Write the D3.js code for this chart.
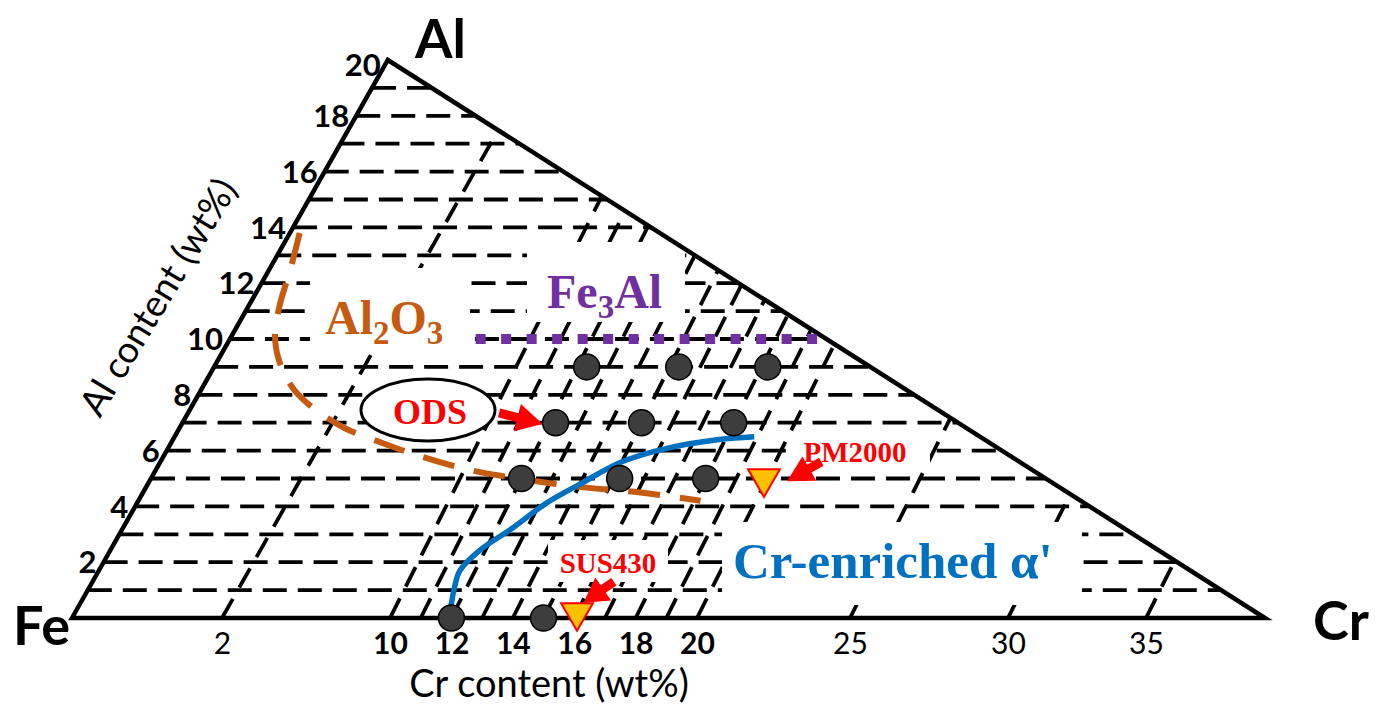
<!DOCTYPE html>
<html>
<head>
<meta charset="utf-8">
<script src="https://cdn.jsdelivr.net/npm/d3@7"></script>
<style>
  body { margin: 0; background: #fff; }
  svg { display: block; }
</style>
</head>
<body>
<div id="chart"></div>
<script>
// ---- data (wt%) ----
// axis ticks
const crTicks = [2, 10, 12, 14, 16, 18, 20, 25, 30, 35];
const crBoldTicks = [10, 12, 14, 16, 18, 20];
const alTicks = [2, 4, 6, 8, 10, 12, 14, 16, 18, 20];

// grid lines of the hatched diagram
const alGrid = [1, 2, 3, 4, 5, 6, 7, 8, 9, 10, 11, 12, 13, 14, 15, 16, 17, 18, 19];
const crGrid = [2, 10, 11, 12, 13, 14, 15, 16, 17, 18, 19, 20, 25, 30, 35];

// tested alloys (grey dots)
const sampleCr = [12, 15, 12, 15.2, 18, 12.2, 15, 18, 12.3, 15.3, 18.2];
const sampleAl = [0, 0, 5, 5, 5, 7, 7, 7, 9, 9, 9];

// commercial alloys (yellow triangles)
const alloyNames = ["PM2000", "SUS430"];
const alloyCr = [19.9, 16.0];
const alloyAl = [5.0, 0.2];

// Al2O3 forming boundary
const al2o3Cr = [0.13, 0.28, 0.41, 0.58, 0.86, 1.23, 1.65, 2.8, 5.0, 7.4, 10.2, 11.9, 14.0, 16.1, 18.2];
const al2o3Al = [13.8, 12.5, 11.2, 10.1, 9.1, 8.2, 7.5, 6.8, 6.3, 5.8, 5.3, 5.0, 4.7, 4.5, 4.2];

// Cr-enriched alpha' boundary
const alphaCr = [11.8, 11.6, 11.5, 11.8, 12.5, 13.2, 14.0, 15.0, 16.3, 17.8, 18.9];
const alphaAl = [0.4, 1.1, 1.7, 2.4, 3.2, 4.1, 4.8, 5.6, 6.1, 6.4, 6.5];

// Fe3Al limit
const fe3alCr = [7.1, 19.4];
const fe3alAl = [10, 10];

// arrows: [crFrom, alFrom, crTo, alTo]
const arrowODS = [10.2, 7.35, 11.8, 6.95];
const arrowSUS = [16.7, 1.3, 16.05, 0.55];
const arrowPM = [21.5, 5.6, 20.7, 4.9];

const crMax = 39, alMax = 20;

// ---- svg ----
const svgWidth = 1375, svgHeight = 710;
const svg = d3.select("#chart").append("svg")
  .attr("width", svgWidth)
  .attr("height", svgHeight);

// hand drawn diagram: broken Cr axis, skewed Cr isopleths
const x = d3.scaleLinear()
  .domain([0, 2, 10, 20, 25, 30, 35, crMax])
  .range([72, 222, 390, 697, 850, 1008, 1146, 1265]);
const y = d3.scaleLinear().domain([0, alMax]).range([618, 60]);
const lean = d3.scaleLinear().domain([2, 10]).range([0.566, 0.502]).clamp(true);
const P = (cr, al) => [x(cr) + lean(cr) * (y(0) - y(al)), y(al)];

const vFe = P(0, 0), vAl = P(0, alMax), vCr = P(crMax, 0);
const leftX = al => vFe[0] + (vAl[0] - vFe[0]) * al / alMax;
const rightX = al => vCr[0] + (vAl[0] - vCr[0]) * al / alMax;

svg.append("clipPath").attr("id", "tri")
  .append("polygon")
  .attr("points", [vFe, vAl, vCr].map(p => p.join(",")).join(" "));

const serif = "'Liberation Serif', 'Times New Roman', serif";
const sans = "Lato, 'Open Sans', sans-serif";

// hatching
const hatch = svg.append("g").attr("clip-path", "url(#tri)");
hatch.selectAll(".hline")
  .data(alGrid)
  .join("line")
  .attr("x1", a => leftX(a))
  .attr("x2", a => rightX(a))
  .attr("y1", a => y(a))
  .attr("y2", a => y(a))
  .attr("stroke", "#000")
  .attr("stroke-width", 3.8)
  .attr("stroke-dasharray", "24,11");

hatch.selectAll(".sline")
  .data(crGrid)
  .join("line")
  .attr("x1", c => P(c, 0)[0])
  .attr("y1", y(0))
  .attr("x2", c => P(c, alMax)[0])
  .attr("y2", y(alMax))
  .attr("stroke", "#000")
  .attr("stroke-width", 3.8)
  .attr("stroke-dasharray", "22,13");

// white label boxes that hide the hatching
const boxes = [
  [310, 268, 160, 82],   // Al2O3
  [527, 242, 158, 80],   // Fe3Al
  [795, 428, 135, 42],   // PM2000
  [548, 540, 120, 42],   // SUS430
  [722, 522, 360, 83]    // Cr-enriched
];
svg.append("g").selectAll("rect")
  .data(boxes)
  .join("rect")
  .attr("x", d => d[0]).attr("y", d => d[1])
  .attr("width", d => d[2]).attr("height", d => d[3])
  .attr("fill", "#fff");

// triangle outline
svg.append("polygon")
  .attr("points", [vFe, vAl, vCr].map(p => p.join(",")).join(" "))
  .attr("fill", "none")
  .attr("stroke", "#000")
  .attr("stroke-width", 4.5)
  .attr("stroke-linejoin", "miter");

const curve = d3.line().curve(d3.curveCatmullRom.alpha(0.5));

// Al2O3 boundary
svg.append("path")
  .attr("d", curve(al2o3Cr.map((c, i) => P(c, al2o3Al[i]))))
  .attr("fill", "none")
  .attr("stroke", "#C55A11")
  .attr("stroke-width", 6)
  .attr("stroke-dasharray", "32,20");

// Fe3Al line
svg.append("path")
  .attr("d", d3.line()(fe3alCr.map((c, i) => P(c, fe3alAl[i]))))
  .attr("stroke", "#7030A0")
  .attr("stroke-width", 10)
  .attr("stroke-dasharray", "10,15.5");

// alpha' boundary
svg.append("path")
  .attr("d", curve(alphaCr.map((c, i) => P(c, alphaAl[i]))))
  .attr("fill", "none")
  .attr("stroke", "#0070C0")
  .attr("stroke-width", 5.5);

// ODS label
svg.append("ellipse")
  .attr("cx", 428).attr("cy", 410).attr("rx", 67).attr("ry", 31)
  .attr("fill", "#fff").attr("stroke", "#000").attr("stroke-width", 3);
svg.append("text")
  .attr("x", 430).attr("y", 424)
  .attr("text-anchor", "middle")
  .attr("font-family", serif).attr("font-weight", "bold").attr("font-size", 36)
  .attr("fill", "#FF0000")
  .text("ODS");

// samples
svg.append("g").selectAll("circle")
  .data(sampleCr)
  .join("circle")
  .attr("cx", (c, i) => P(c, sampleAl[i])[0])
  .attr("cy", (c, i) => P(c, sampleAl[i])[1])
  .attr("r", 13)
  .attr("fill", "#3d3d3d")
  .attr("stroke", "#000")
  .attr("stroke-width", 1.5);

// commercial alloys
svg.append("g").selectAll("path")
  .data(alloyNames)
  .join("path")
  .attr("d", d3.symbol(d3.symbolTriangle, 440))
  .attr("transform", (n, i) => {
    const p = P(alloyCr[i], alloyAl[i]);
    return `translate(${p[0]},${p[1]}) rotate(180)`;
  })
  .attr("fill", "#FFC000")
  .attr("stroke", "#FF0000")
  .attr("stroke-width", 2);

// arrows
function arrowPoints(a) {
  const [x1, y1] = P(a[0], a[1]);
  const [x2, y2] = P(a[2], a[3]);
  const len = Math.hypot(x2 - x1, y2 - y1);
  const ux = (x2 - x1) / len, uy = (y2 - y1) / len;
  const nx = -uy, ny = ux;
  const head = Math.min(26, len * 0.65), hw = 14, sw = 4.5;
  const bx = x2 - ux * head, by = y2 - uy * head;
  return [
    [x1 + nx * sw, y1 + ny * sw],
    [bx + nx * sw, by + ny * sw],
    [bx + nx * hw, by + ny * hw],
    [x2, y2],
    [bx - nx * hw, by - ny * hw],
    [bx - nx * sw, by - ny * sw],
    [x1 - nx * sw, y1 - ny * sw]
  ].map(p => p.join(",")).join(" ");
}
svg.append("g").selectAll("polygon")
  .data([arrowODS, arrowSUS, arrowPM])
  .join("polygon")
  .attr("points", arrowPoints)
  .attr("fill", "#FF0000");

// region labels
const al2o3Label = svg.append("text")
  .attr("x", 325).attr("y", 334)
  .attr("font-family", serif).attr("font-weight", "bold").attr("font-size", 48)
  .attr("fill", "#C55A11");
al2o3Label.append("tspan").text("Al");
al2o3Label.append("tspan").attr("font-size", 33).attr("dy", 10).text("2");
al2o3Label.append("tspan").attr("dy", -10).text("O");
al2o3Label.append("tspan").attr("font-size", 33).attr("dy", 10).text("3");

const fe3alLabel = svg.append("text")
  .attr("x", 547).attr("y", 308)
  .attr("font-family", serif).attr("font-weight", "bold").attr("font-size", 48)
  .attr("fill", "#7030A0");
fe3alLabel.append("tspan").text("Fe");
fe3alLabel.append("tspan").attr("font-size", 33).attr("dy", 10).text("3");
fe3alLabel.append("tspan").attr("dy", -10).text("Al");

svg.append("text")
  .attr("x", 733).attr("y", 578)
  .attr("font-family", serif).attr("font-weight", "bold").attr("font-size", 51)
  .attr("fill", "#0070C0")
  .text("Cr-enriched α'");

svg.append("text")
  .attr("x", 855).attr("y", 462)
  .attr("text-anchor", "middle")
  .attr("font-family", serif).attr("font-weight", "bold").attr("font-size", 29)
  .attr("fill", "#FF0000")
  .text(alloyNames[0]);

svg.append("text")
  .attr("x", 608).attr("y", 573)
  .attr("text-anchor", "middle")
  .attr("font-family", serif).attr("font-weight", "bold").attr("font-size", 29)
  .attr("fill", "#FF0000")
  .text(alloyNames[1]);

// Cr axis
const xAxis = d3.axisBottom(x)
  .tickValues(crTicks)
  .tickSize(0)
  .tickPadding(15)
  .tickFormat(d3.format("d"));
const xg = svg.append("g")
  .attr("transform", `translate(0, ${y(0)})`)
  .call(xAxis);
xg.select(".domain").remove();
xg.selectAll("text")
  .attr("font-family", sans)
  .attr("font-size", 30)
  .attr("fill", "#000")
  .attr("font-weight", d => crBoldTicks.includes(d) ? "bold" : "normal");

// Al axis (along the Fe-Al edge)
svg.append("g").selectAll("text")
  .data(alTicks)
  .join("text")
  .attr("x", a => leftX(a) - 7)
  .attr("y", a => y(a) + (a === alMax ? 5 : 0))
  .attr("dy", "0.36em")
  .attr("text-anchor", "end")
  .attr("font-family", sans)
  .attr("font-weight", "bold")
  .attr("font-size", 31)
  .text(a => a);

// axis titles
svg.append("text")
  .attr("x", 549).attr("y", 697)
  .attr("text-anchor", "middle")
  .attr("font-family", sans).attr("font-size", 38)
  .text("Cr content (wt%)");

svg.append("text")
  .attr("transform", "translate(158, 297) rotate(-59)")
  .attr("text-anchor", "middle")
  .attr("dy", "0.35em")
  .attr("font-family", sans).attr("font-size", 37)
  .text("Al content (wt%)");

// vertex labels
const vertexLabels = [["Fe", 13, 645], ["Al", 415, 58], ["Cr", 1313, 640]];
svg.append("g").selectAll("text")
  .data(vertexLabels)
  .join("text")
  .attr("x", d => d[1]).attr("y", d => d[2])
  .attr("font-family", sans).attr("font-weight", "bold").attr("font-size", 54)
  .text(d => d[0]);
</script>
</body>
</html>
